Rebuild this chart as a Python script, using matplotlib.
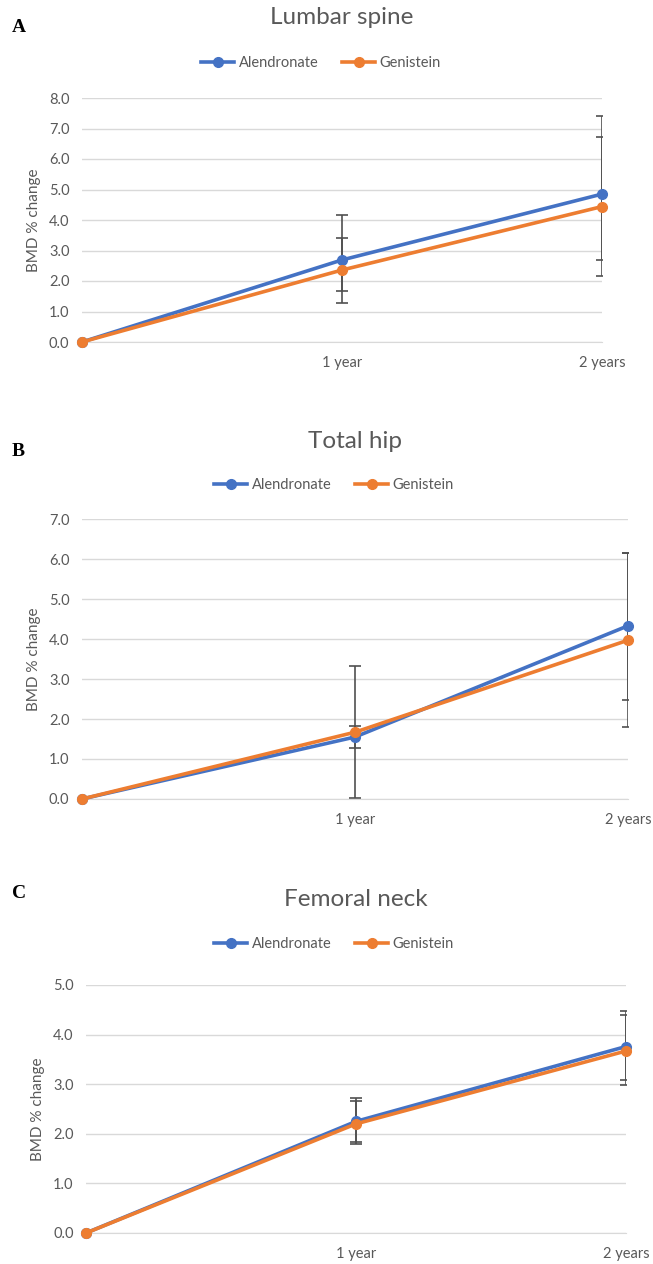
import matplotlib
matplotlib.use("Agg")
import matplotlib.pyplot as plt
import numpy as np

plt.rcParams["font.family"] = ["Lato", "DejaVu Sans"]

# categories on the x axis (first one has no label)
time_labels = ["", "1 year", "2 years"]

# panel A - lumbar spine
spine_alen = [0.0, 2.69, 4.85]
spine_gen = [0.0, 2.36, 4.44]
spine_alen_lo = [0.0, 1.68, 2.68]
spine_alen_hi = [0.0, 4.16, 7.41]
spine_gen_lo = [0.0, 1.27, 2.17]
spine_gen_hi = [0.0, 3.42, 6.71]

# panel B - total hip
hip_alen = [0.0, 1.55, 4.33]
hip_gen = [0.0, 1.67, 3.97]
hip_alen_lo = [0.0, 0.03, 2.48]
hip_alen_hi = [0.0, 3.33, 6.16]
hip_gen_lo = [0.0, 1.27, 1.81]
hip_gen_hi = [0.0, 1.83, 6.14]

# panel C - femoral neck
neck_alen = [0.0, 2.25, 3.76]
neck_gen = [0.0, 2.20, 3.67]
neck_alen_lo = [0.0, 1.84, 3.08]
neck_alen_hi = [0.0, 2.72, 4.47]
neck_gen_lo = [0.0, 1.79, 2.98]
neck_gen_hi = [0.0, 2.66, 4.40]

BLUE = "#4472C4"
ORANGE = "#ED7D31"
GRAY = "#595959"

W, H = 653, 1264
fig = plt.figure(figsize=(W / 100, H / 100), dpi=100)


def px_axes(left, right, top, bottom):
    return fig.add_axes([left / W, 1 - bottom / H, (right - left) / W, (bottom - top) / H])


def panel(box, ymax, alen, gen, a_lo, a_hi, g_lo, g_hi, title, letter,
          title_y, legend_x, legend_y, letter_y):
    ax = px_axes(*box)
    x = np.arange(len(time_labels))
    for vals, lo, hi in [(alen, a_lo, a_hi), (gen, g_lo, g_hi)]:
        vals = np.array(vals)
        yerr = [vals - np.array(lo), np.array(hi) - vals]
        ax.errorbar(x[1:], vals[1:], yerr=[yerr[0][1:], yerr[1][1:]], fmt="none",
                    ecolor="#505050", elinewidth=1.2, capsize=4, capthick=1.2, zorder=2)
    ax.plot(x, alen, color=BLUE, lw=2.6, marker="o", ms=7, label="Alendronate",
            zorder=3, clip_on=False)
    ax.plot(x, gen, color=ORANGE, lw=2.6, marker="o", ms=7, label="Genistein",
            zorder=4, clip_on=False)
    ax.set_xlim(0, 2)
    ax.set_ylim(0, ymax)
    ax.set_yticks(np.arange(0, ymax + 0.01, 1.0))
    ax.set_yticklabels([f"{v:.1f}" for v in np.arange(0, ymax + 0.01, 1.0)])
    ax.set_xticks(x)
    ax.set_xticklabels(time_labels)
    ax.grid(axis="y", color="#d9d9d9", lw=1)
    ax.set_axisbelow(True)
    for s in ["top", "right", "left"]:
        ax.spines[s].set_visible(False)
    ax.spines["bottom"].set_color("#d9d9d9")
    ax.tick_params(length=0, labelsize=10.5, labelcolor=GRAY)
    ax.tick_params(axis="x", pad=10)
    ax.tick_params(axis="y", pad=9)
    ax.set_ylabel("BMD % change", fontsize=11, color=GRAY, labelpad=6)
    cx = (box[0] + box[1]) / 2 / W
    fig.text(cx, 1 - title_y / H, title, ha="center", va="center", fontsize=17.5, color=GRAY)
    fig.text(12 / W, 1 - letter_y / H, letter, ha="left", va="center", fontsize=14,
             fontweight="bold", family="Liberation Serif")
    fig.legend(handles=ax.get_lines()[-2:], loc="center", ncol=2, frameon=False,
               bbox_to_anchor=(legend_x / W, 1 - legend_y / H), fontsize=10.5, labelcolor=GRAY,
               handlelength=2.3, columnspacing=1.6, handletextpad=0.3)
    return ax


panel((82, 602, 98, 342), 8.0, spine_alen, spine_gen, spine_alen_lo, spine_alen_hi,
      spine_gen_lo, spine_gen_hi, "Lumbar spine", "A", 18, 321, 63, 28)
panel((82, 628, 519, 799), 7.0, hip_alen, hip_gen, hip_alen_lo, hip_alen_hi,
      hip_gen_lo, hip_gen_hi, "Total hip", "B", 442, 334, 485, 451)
panel((86, 626, 985, 1233), 5.0, neck_alen, neck_gen, neck_alen_lo, neck_alen_hi,
      neck_gen_lo, neck_gen_hi, "Femoral neck", "C", 900, 334, 944, 893)

fig.savefig("out.png", dpi=100)
